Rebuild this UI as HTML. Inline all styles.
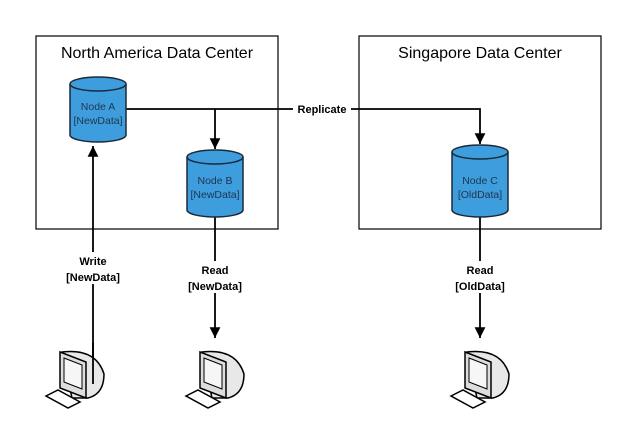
<!DOCTYPE html>
<html><head><style>body{margin:0;background:#fff}svg{display:block}</style></head>
<body>
<svg width="627" height="427" viewBox="0 0 627 427" xmlns="http://www.w3.org/2000/svg" font-family="Liberation Sans, sans-serif">
<defs>
<marker id="ar" viewBox="0 0 10 10" refX="10" refY="5" markerWidth="6" markerHeight="6" orient="auto"><path d="M0,0L10,5L0,10z" fill="#000"/></marker>
<g id="pc">
 <path d="M22,8 Q56,4 64,30 Q64,50 48,54 L32,54 Z" fill="#e8e8e8" stroke="#000" stroke-width="1.5"/>
 <path d="M20,8 L46,18 L46,54 L20,44 Z" fill="#ddd" stroke="#000" stroke-width="1.5"/>
 <path d="M24,14 L42,21 L42,45 L24,38 Z" fill="#f6f6f6" stroke="#000" stroke-width="1"/>
 <path d="M6,52 L18,46 L40,58 L28,64 Z" fill="#fff" stroke="#000" stroke-width="1.5"/>
</g>
</defs>
<rect x="36" y="36" width="242" height="193" fill="none" stroke="#000" stroke-width="1.2"/>
<rect x="359" y="36" width="242" height="193" fill="none" stroke="#000" stroke-width="1.2"/>
<text x="157" y="58" font-size="16" text-anchor="middle">North America Data Center</text>
<text x="480" y="58" font-size="16" text-anchor="middle">Singapore Data Center</text>

<g stroke="#000" stroke-width="1.8" fill="none">
<path d="M126,109 H480 V144" marker-end="url(#ar)"/>
<path d="M215,109 V149" marker-end="url(#ar)"/>
<path d="M93,360 V146" marker-end="url(#ar)"/>
<path d="M215,217 V338" marker-end="url(#ar)"/>
<path d="M480,217 V338" marker-end="url(#ar)"/>
</g>
<rect x="293" y="101" width="58" height="16" fill="#fff"/>
<text x="322" y="113" font-size="11" font-weight="bold" text-anchor="middle">Replicate</text>

<g font-size="11" font-weight="bold" text-anchor="middle">
<rect x="60" y="252" width="68" height="32" fill="#fff"/>
<text x="93" y="265">Write</text><text x="93" y="281">[NewData]</text>
<rect x="181" y="261" width="68" height="32" fill="#fff"/>
<text x="215" y="274">Read</text><text x="215" y="290">[NewData]</text>
<rect x="448" y="261" width="64" height="32" fill="#fff"/>
<text x="480" y="274">Read</text><text x="480" y="290">[OldData]</text>
</g>

<g stroke="#1a2a3a" stroke-width="1.5" fill="#3e9ddc">
<path d="M70,84 V135 A28,7 0 0 0 126,135 V84"/><ellipse cx="98" cy="84" rx="28" ry="7"/>
<path d="M187,157 V210 A28,7 0 0 0 243,210 V157"/><ellipse cx="215" cy="157" rx="28" ry="7"/>
<path d="M452,152 V210 A28,7 0 0 0 508,210 V152"/><ellipse cx="480" cy="152" rx="28" ry="7"/>
</g>
<g font-size="10.5" fill="#1f3550" text-anchor="middle">
<text x="98" y="110">Node A</text><text x="98" y="124">[NewData]</text>
<text x="215" y="184">Node B</text><text x="215" y="198">[NewData]</text>
<text x="480" y="184">Node C</text><text x="480" y="198">[OldData]</text>
</g>

<use href="#pc" x="40" y="344"/>
<use href="#pc" x="180" y="344"/>
<use href="#pc" x="445" y="344"/>
<line x1="93" y1="343" x2="93" y2="384" stroke="#000" stroke-width="1.8"/>
</svg>
</body></html>
